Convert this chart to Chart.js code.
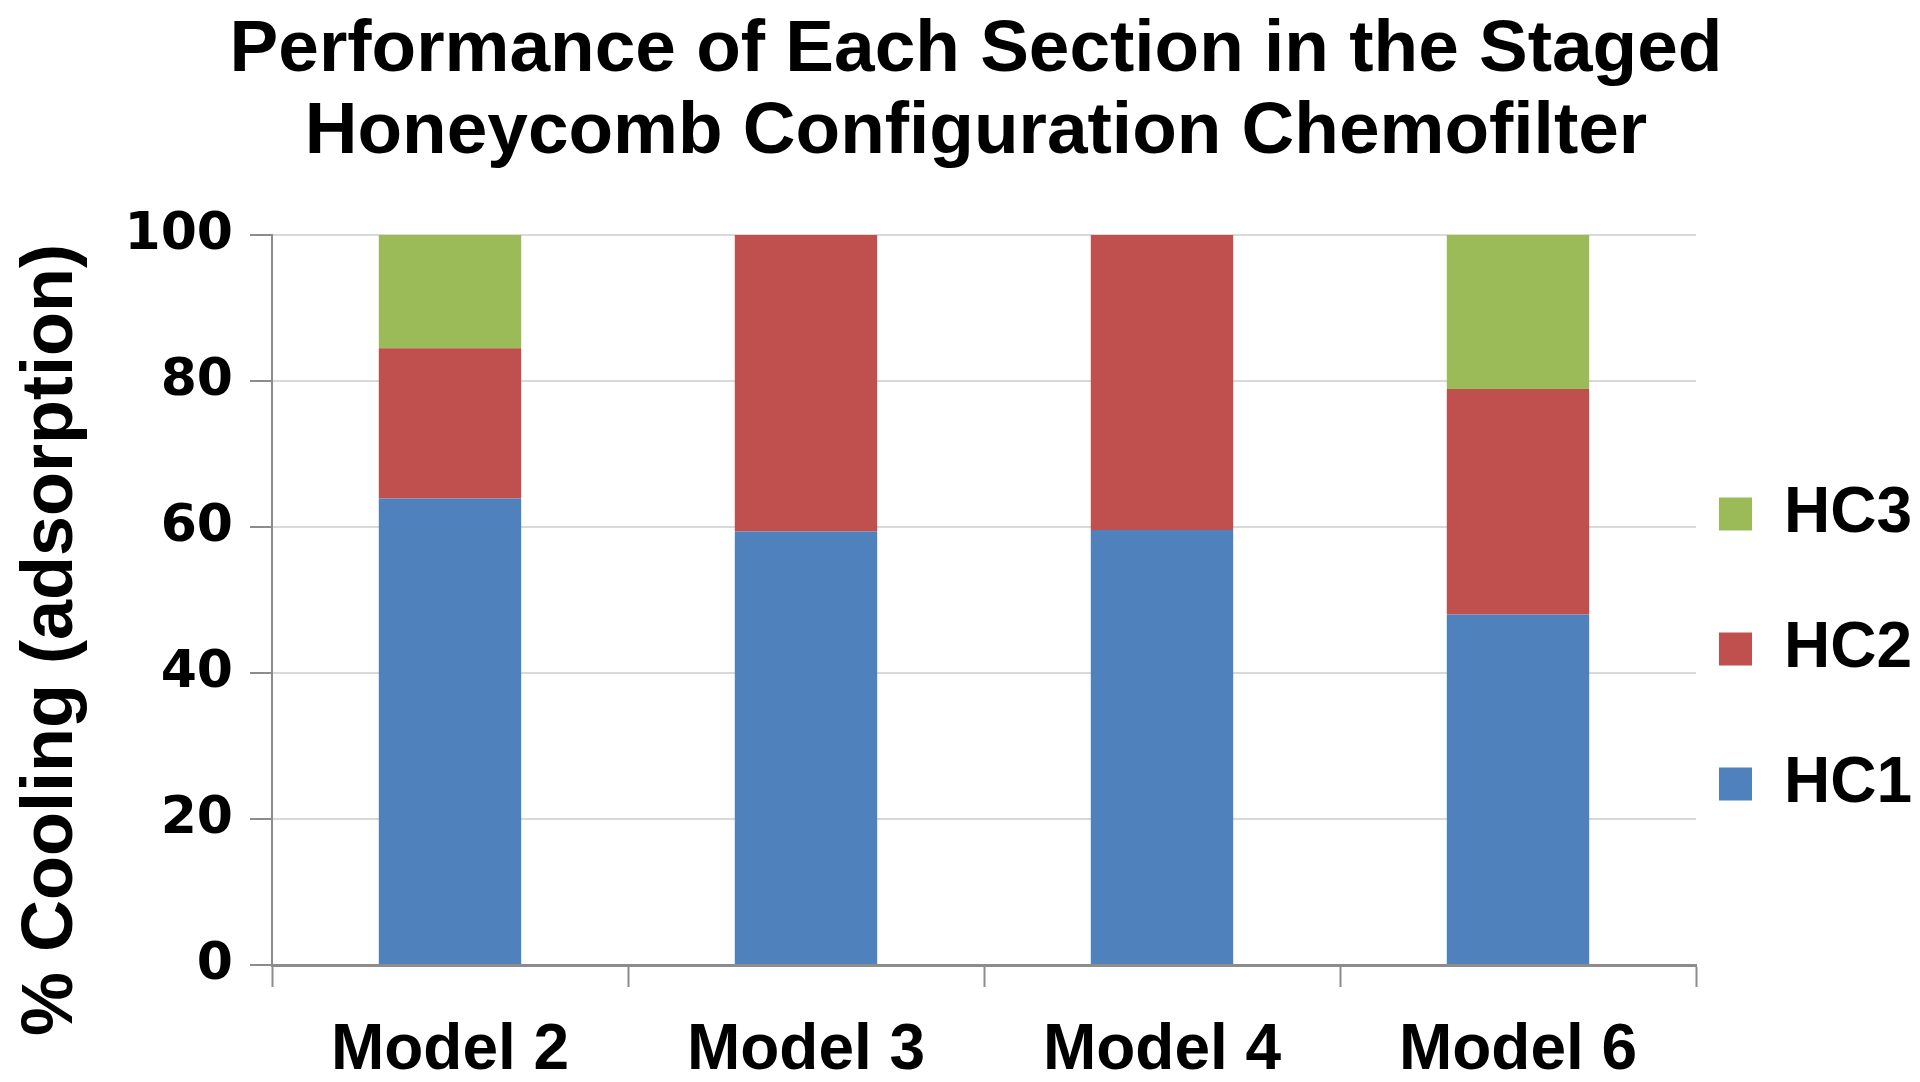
<!DOCTYPE html>
<html>
<head>
<meta charset="utf-8">
<title>Staged Honeycomb Configuration Chemofilter</title>
<script src="https://cdn.jsdelivr.net/npm/chart.js@4.4.1/dist/chart.umd.min.js"></script>
<style>
  html, body { margin: 0; padding: 0; background: #ffffff; }
</style>
</head>
<body>
<canvas id="chart" width="1920" height="1082"></canvas>
<script>
    // Chart data
    var categories = ['Model 2', 'Model 3', 'Model 4', 'Model 6'];
    var hc1 = [63.9, 59.4, 59.6, 48.0];
    var hc2 = [20.6, 40.6, 40.4, 30.9];
    var hc3 = [15.5, 0, 0, 21.1];
    var yTickValues = [0, 20, 40, 60, 80, 100];

    var SANS = "'Liberation Sans', Arial, sans-serif";
    var WIDE = "'DejaVu Sans', Verdana, sans-serif";

    // shift the legend column to where the figure has it
    // (only the left edge moves, so the labels are not clipped on the right)
    var nudgeLegend = {
        id: 'nudgeLegend',
        afterLayout: function (chart) {
            var lg = chart.legend;
            if (!lg) return;
            lg.left -= 48;
            lg.right = chart.width + 20;
            lg.top += 108;
            lg.bottom += 108;
        }
    };

    var ctx = document.getElementById('chart').getContext('2d');
    new Chart(ctx, {
        type: 'bar',
        data: {
            labels: categories,
            datasets: [
                { label: 'HC1', data: hc1, backgroundColor: '#4f81bd' },
                { label: 'HC2', data: hc2, backgroundColor: '#c0504d' },
                { label: 'HC3', data: hc3, backgroundColor: '#9bbb59' }
            ]
        },
        options: {
            responsive: false,
            animation: false,
            devicePixelRatio: 1,
            barPercentage: 0.4,
            categoryPercentage: 1,
            layout: { padding: { left: 16, right: -16, top: 0, bottom: 0 } },
            plugins: {
                tooltip: { enabled: false },
                title: {
                    display: true,
                    text: ['Performance of Each Section in the Staged', 'Honeycomb Configuration Chemofilter'],
                    color: '#000000',
                    font: { family: SANS, size: 73, weight: 'bold', lineHeight: '82px' },
                    padding: { top: 10, bottom: 61 }
                },
                legend: {
                    position: 'right',
                    reverse: true,
                    maxWidth: 240,
                    labels: {
                        color: '#000000',
                        font: { family: SANS, size: 64, weight: 'bold' },
                        boxWidth: 33,
                        boxHeight: 33,
                        padding: 71
                    }
                }
            },
            scales: {
                x: {
                    stacked: true,
                    afterFit: function (s) { s.height = 117; },
                    grid: {
                        display: true,
                        drawOnChartArea: false,
                        drawTicks: true,
                        tickLength: 22,
                        tickWidth: 2,
                        tickColor: '#8c8c8c'
                    },
                    border: { display: true, color: '#8c8c8c', width: 3 },
                    ticks: {
                        color: '#000000',
                        padding: 32,
                        font: { family: SANS, size: 64, weight: 'bold', lineHeight: 1 }
                    }
                },
                y: {
                    stacked: true,
                    min: 0,
                    max: 100,
                    afterFit: function (s) { s.width = 256; },
                    afterBuildTicks: function (s) {
                        s.ticks = yTickValues.map(function (v) { return { value: v }; });
                    },
                    grid: {
                        color: '#d9d9d9',
                        lineWidth: 2,
                        drawTicks: true,
                        tickLength: 22,
                        tickWidth: 2,
                        tickColor: '#8c8c8c'
                    },
                    border: { display: true, color: '#8c8c8c', width: 2 },
                    ticks: {
                        color: '#000000',
                        padding: 17,
                        font: { family: WIDE, size: 52, weight: 'bold' }
                    },
                    title: {
                        display: true,
                        text: '% Cooling (adsorption)    ',
                        color: '#000000',
                        padding: 0,
                        font: { family: SANS, size: 72, weight: 'bold', lineHeight: 1 }
                    }
                }
            }
        },
        plugins: [nudgeLegend]
    });
</script>
</body>
</html>
